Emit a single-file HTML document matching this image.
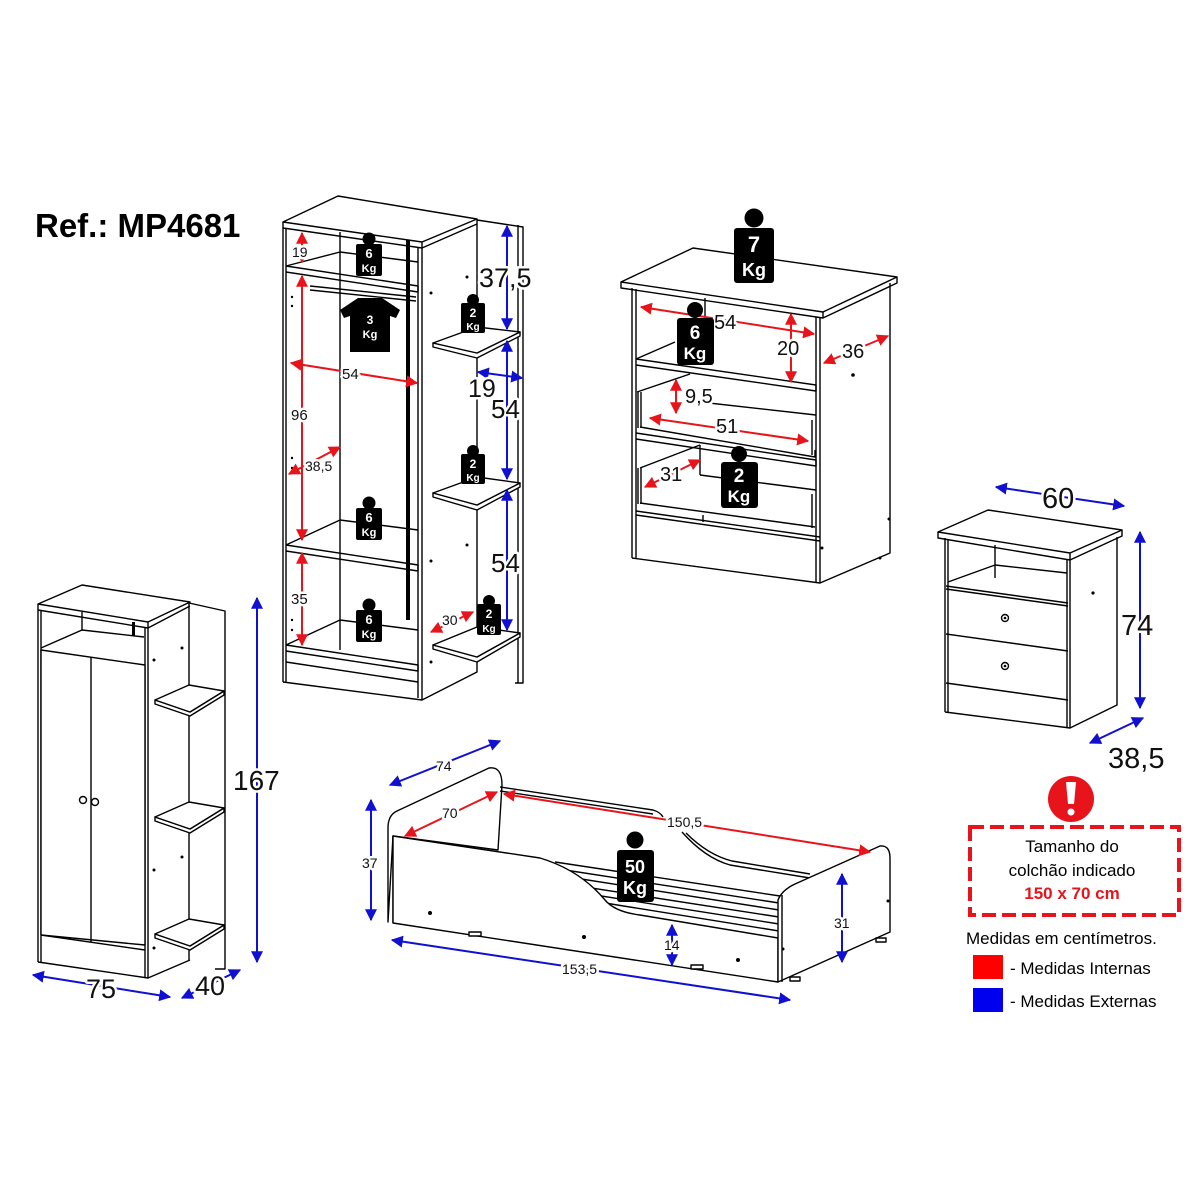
<!DOCTYPE html>
<html><head><meta charset="utf-8"><style>
html,body{margin:0;padding:0;background:#fff}
svg{display:block}
text{font-family:"Liberation Sans",sans-serif}
.l{fill:none;stroke:#000;stroke-width:1.4;stroke-linejoin:round}
.lt{fill:#fff;stroke:#000;stroke-width:1.4;stroke-linejoin:round}
.r{stroke:#e8141b;stroke-width:2;fill:none}
.b{stroke:#1010d0;stroke-width:2;fill:none}
.t{fill:#111;stroke:#fff;stroke-width:5;paint-order:stroke;stroke-linejoin:round}
.w{fill:#fff;font-weight:bold;text-anchor:middle}
</style></head><body>
<svg width="1200" height="1200" viewBox="0 0 1200 1200" xmlns="http://www.w3.org/2000/svg">
<defs>
<marker id="ar" viewBox="0 0 10 10" refX="9" refY="5" markerWidth="6" markerHeight="6" orient="auto-start-reverse"><path d="M0,0L10,5L0,10z" fill="#e8141b"/></marker>
<marker id="ab" viewBox="0 0 10 10" refX="9" refY="5" markerWidth="6" markerHeight="6" orient="auto-start-reverse"><path d="M0,0L10,5L0,10z" fill="#1010d0"/></marker>
</defs>
<rect width="1200" height="1200" fill="#fff"/>
<text x="35" y="237" font-size="33" font-weight="bold">Ref.: MP4681</text>

<!-- TALL WARDROBE -->
<polygon class="lt" points="283,222 338,196 477,219 422,242"/>
<polyline class="l" points="283,222 283,228 422,248 477,224"/>
<line class="l" x1="286" y1="228" x2="286" y2="682"/>
<line class="l" x1="283" y1="228" x2="283" y2="682"/>
<line class="l" x1="422" y1="242" x2="422" y2="700"/>
<line class="l" x1="418" y1="248" x2="418" y2="698"/>
<polyline class="l" points="283,682 422,700 477,672 477,219"/>
<polyline class="l" points="477,220 523,227 523,683 515,683"/>
<line class="l" x1="518" y1="225" x2="518" y2="683"/>
<line class="l" x1="340" y1="232" x2="340" y2="650"/>
<rect x="406" y="240" width="4" height="380" fill="#000"/>
<polyline class="l" points="286,266 340,252 418,262"/>
<polyline class="l" points="286,266 418,286 418,292 286,272"/>
<line class="l" x1="310" y1="286" x2="416" y2="297"/>
<line class="l" x1="310" y1="290" x2="416" y2="301"/>
<polyline class="l" points="286,545 340,520 418,530"/>
<polyline class="l" points="286,545 418,565 418,571 286,551"/>
<polyline class="l" points="286,645 340,620 418,630"/>
<polyline class="l" points="286,645 418,665 418,671 286,651"/>
<line class="l" x1="418" y1="682" x2="286" y2="662"/>
<polygon class="lt" points="433,343 477,353 520,332 520,336 477,358 433,347"/>
<polygon class="lt" points="433,343 477,353 520,332 477,327"/>
<polygon class="lt" points="433,493 477,505 520,483 520,487 477,510 433,497"/>
<polygon class="lt" points="433,493 477,505 520,483 477,477"/>
<polygon class="lt" points="433,645 477,657 520,633 520,637 477,662 433,649"/>
<polygon class="lt" points="433,645 477,657 520,633 477,627"/>
<g fill="#000"><circle cx="431" cy="293" r="1.5"/><circle cx="467" cy="277" r="1.5"/><circle cx="467" cy="545" r="1.5"/><circle cx="431" cy="561" r="1.5"/><circle cx="431" cy="662" r="1.5"/><circle cx="292" cy="297" r="1.2"/><circle cx="292" cy="306" r="1.2"/><circle cx="292" cy="458" r="1.2"/><circle cx="292" cy="468" r="1.2"/><circle cx="292" cy="620" r="1.2"/><circle cx="292" cy="630" r="1.2"/></g>
<line class="r" x1="302" y1="233" x2="302" y2="262" marker-start="url(#ar)" marker-end="url(#ar)"/>
<line class="r" x1="302" y1="276" x2="302" y2="540" marker-start="url(#ar)" marker-end="url(#ar)"/>
<line class="r" x1="302" y1="553" x2="302" y2="645" marker-start="url(#ar)" marker-end="url(#ar)"/>
<line class="r" x1="291" y1="363" x2="417" y2="383" marker-start="url(#ar)" marker-end="url(#ar)"/>
<line class="r" x1="289" y1="474" x2="340" y2="447" marker-start="url(#ar)" marker-end="url(#ar)"/>
<line class="r" x1="431" y1="632" x2="473" y2="612" marker-start="url(#ar)" marker-end="url(#ar)"/>
<text class="t" x="292" y="257" font-size="14">19</text>
<text class="t" x="291" y="420" font-size="15">96</text>
<text class="t" x="291" y="604" font-size="15">35</text>
<text class="t" x="342" y="379" font-size="15">54</text>
<text class="t" x="305" y="471" font-size="14">38,5</text>
<text class="t" x="442" y="625" font-size="14">30</text>
<line class="b" x1="507" y1="226" x2="507" y2="329" marker-start="url(#ab)" marker-end="url(#ab)"/>
<line class="b" x1="507" y1="341" x2="507" y2="479" marker-start="url(#ab)" marker-end="url(#ab)"/>
<line class="b" x1="507" y1="490" x2="507" y2="630" marker-start="url(#ab)" marker-end="url(#ab)"/>
<line class="b" x1="478" y1="372" x2="522" y2="378" marker-start="url(#ab)" marker-end="url(#ab)"/>
<text class="t" x="479" y="287" font-size="27">37,5</text>
<text class="t" x="468" y="397" font-size="25">19</text>
<text class="t" x="491" y="418" font-size="26">54</text>
<text class="t" x="491" y="572" font-size="26">54</text>
<g>
<circle cx="369" cy="239" r="6.5"/><rect x="356" y="244" width="26" height="32" rx="2"/><text class="w" x="369" y="258" font-size="13">6</text><text class="w" x="369" y="272" font-size="11">Kg</text>
<path d="M340,310 L358,298 L382,298 L400,310 L396,318 L390,316 L390,352 L350,352 L350,316 L344,318 Z"/><text class="w" x="370" y="324" font-size="12">3</text><text class="w" x="370" y="338" font-size="11">Kg</text>
<circle cx="473" cy="300" r="6"/><rect x="461" y="303" width="24" height="30" rx="2"/><text class="w" x="473" y="317" font-size="12">2</text><text class="w" x="473" y="330" font-size="10">Kg</text>
<circle cx="473" cy="451" r="6"/><rect x="461" y="454" width="24" height="30" rx="2"/><text class="w" x="473" y="468" font-size="12">2</text><text class="w" x="473" y="481" font-size="10">Kg</text>
<circle cx="489" cy="601" r="6"/><rect x="477" y="604" width="24" height="31" rx="2"/><text class="w" x="489" y="618" font-size="12">2</text><text class="w" x="489" y="632" font-size="10">Kg</text>
<circle cx="369" cy="503" r="6.5"/><rect x="356" y="508" width="26" height="32" rx="2"/><text class="w" x="369" y="522" font-size="13">6</text><text class="w" x="369" y="536" font-size="11">Kg</text>
<circle cx="369" cy="605" r="6.5"/><rect x="356" y="610" width="26" height="32" rx="2"/><text class="w" x="369" y="624" font-size="13">6</text><text class="w" x="369" y="638" font-size="11">Kg</text>
</g>

<!-- DRESSER -->
<polygon class="lt" points="621,282 693,248 897,277 823,312"/>
<polyline class="l" points="621,282 621,288 823,318 897,283 897,277"/>
<line class="l" x1="823" y1="312" x2="823" y2="318"/>
<line class="l" x1="632" y1="288" x2="632" y2="558"/>
<line class="l" x1="636" y1="289" x2="636" y2="559"/>
<line class="l" x1="820" y1="317" x2="820" y2="583"/>
<line class="l" x1="816" y1="317" x2="816" y2="583"/>
<polyline class="l" points="632,558 820,583 890,553 890,283"/>
<line class="l" x1="705" y1="298" x2="705" y2="353"/>
<polyline class="l" points="636,359 675,342"/>
<polyline class="l" points="636,359 816,385 816,391 636,365"/>
<polyline class="l" points="637,392 690,374"/>
<line class="l" x1="638" y1="392" x2="638" y2="428"/>
<line class="l" x1="641" y1="392" x2="641" y2="428"/>
<polyline class="l" points="700,402 816,415"/>
<polyline class="l" points="640,427 815,457 815,450"/>
<line class="l" x1="812" y1="420" x2="812" y2="455"/>
<polyline class="l" points="636,433 816,460 816,466 636,439"/>
<polyline class="l" points="640,468 700,445"/>
<line class="l" x1="638" y1="468" x2="638" y2="504"/>
<line class="l" x1="641" y1="468" x2="641" y2="504"/>
<line class="l" x1="700" y1="445" x2="700" y2="475"/>
<polyline class="l" points="700,475 816,490"/>
<polyline class="l" points="640,503 815,527"/>
<line class="l" x1="812" y1="494" x2="812" y2="528"/>
<polyline class="l" points="636,511 820,537"/>
<polyline class="l" points="636,515 820,541"/>
<line class="l" x1="703" y1="515" x2="703" y2="522"/>
<g fill="#000"><circle cx="853" cy="375" r="1.8"/><circle cx="889" cy="519" r="1.5"/><circle cx="822" cy="548" r="1.5"/><circle cx="880" cy="558" r="1.5"/></g>
<line class="r" x1="641" y1="307" x2="814" y2="334" marker-start="url(#ar)" marker-end="url(#ar)"/>
<line class="r" x1="791" y1="314" x2="791" y2="382" marker-start="url(#ar)" marker-end="url(#ar)"/>
<line class="r" x1="824" y1="363" x2="888" y2="336" marker-start="url(#ar)" marker-end="url(#ar)"/>
<line class="r" x1="676" y1="380" x2="676" y2="413" marker-start="url(#ar)" marker-end="url(#ar)"/>
<line class="r" x1="650" y1="418" x2="808" y2="441" marker-start="url(#ar)" marker-end="url(#ar)"/>
<line class="r" x1="645" y1="487" x2="700" y2="460" marker-start="url(#ar)" marker-end="url(#ar)"/>
<text class="t" x="714" y="329" font-size="20">54</text>
<text class="t" x="777" y="355" font-size="20">20</text>
<text class="t" x="842" y="358" font-size="20">36</text>
<text class="t" x="685" y="403" font-size="20">9,5</text>
<text class="t" x="716" y="433" font-size="20">51</text>
<text class="t" x="660" y="481" font-size="20">31</text>
<circle cx="754" cy="218" r="9.5"/><rect x="734" y="228" width="40" height="55" rx="3"/><text class="w" x="754" y="252" font-size="22">7</text><text class="w" x="754" y="276" font-size="18">Kg</text>
<circle cx="695" cy="310" r="8"/><rect x="677" y="318" width="37" height="47" rx="3"/><text class="w" x="695" y="339" font-size="19">6</text><text class="w" x="695" y="359" font-size="17">Kg</text>
<circle cx="739" cy="454" r="8"/><rect x="721" y="462" width="37" height="46" rx="3"/><text class="w" x="739" y="482" font-size="19">2</text><text class="w" x="739" y="502" font-size="17">Kg</text>

<!-- NIGHTSTAND -->
<polygon class="lt" points="938,532 988,510 1122,530 1070,553"/>
<polyline class="l" points="938,532 938,538 1070,560 1122,536 1122,530"/>
<line class="l" x1="1070" y1="553" x2="1070" y2="560"/>
<line class="l" x1="945" y1="538" x2="945" y2="712"/>
<line class="l" x1="948" y1="539" x2="948" y2="712"/>
<line class="l" x1="1070" y1="560" x2="1070" y2="728"/>
<line class="l" x1="1067" y1="560" x2="1067" y2="728"/>
<polyline class="l" points="945,712 1070,728 1117,705 1117,537"/>
<line class="l" x1="995" y1="545" x2="995" y2="578"/>
<polyline class="l" points="948,582 995,565 1067,573"/>
<polyline class="l" points="946,586 1068,603"/>
<polyline class="l" points="946,589 1068,606"/>
<polyline class="l" points="946,634 1068,651"/>
<polyline class="l" points="946,683 1068,700"/>
<circle cx="1005" cy="618" r="3.5" class="l"/><circle cx="1005" cy="618" r="1.3"/>
<circle cx="1005" cy="666" r="3.5" class="l"/><circle cx="1005" cy="666" r="1.3"/>
<circle cx="1093" cy="593" r="1.6"/>
<line class="b" x1="996" y1="487" x2="1124" y2="506" marker-start="url(#ab)" marker-end="url(#ab)"/>
<line class="b" x1="1140" y1="532" x2="1140" y2="708" marker-start="url(#ab)" marker-end="url(#ab)"/>
<line class="b" x1="1090" y1="743" x2="1143" y2="718" marker-start="url(#ab)" marker-end="url(#ab)"/>
<text class="t" x="1042" y="508" font-size="29">60</text>
<text class="t" x="1121" y="635" font-size="29">74</text>
<text class="t" x="1108" y="768" font-size="29">38,5</text>

<!-- LEGEND -->
<rect x="970" y="827" width="209" height="88" fill="none" stroke="#e8141b" stroke-width="4" stroke-dasharray="14,6"/>
<circle cx="1071" cy="799" r="23" fill="#e8141b"/>
<path d="M1066,782 h10 l-2,22 h-6 z" fill="#fff"/><circle cx="1071" cy="812" r="3.5" fill="#fff"/>
<text x="1072" y="852" font-size="17" text-anchor="middle">Tamanho do</text>
<text x="1072" y="876" font-size="17" text-anchor="middle">colchão indicado</text>
<text x="1072" y="899" font-size="17" font-weight="bold" fill="#e8141b" text-anchor="middle">150 x 70 cm</text>
<text x="966" y="944" font-size="17">Medidas em centímetros.</text>
<rect x="973" y="955" width="30" height="24" fill="#ff0000"/>
<text x="1010" y="974" font-size="17">- Medidas Internas</text>
<rect x="973" y="988" width="30" height="24" fill="#0000ee"/>
<text x="1010" y="1007" font-size="17">- Medidas Externas</text>

<!-- SMALL WARDROBE -->
<polygon class="lt" points="38,604 82,585 190,602 148,622"/>
<polyline class="l" points="38,604 38,610 148,628 190,606"/>
<line class="l" x1="148" y1="622" x2="148" y2="628"/>
<line class="l" x1="38" y1="610" x2="38" y2="962"/>
<line class="l" x1="41" y1="610" x2="41" y2="962"/>
<line class="l" x1="148" y1="628" x2="148" y2="978"/>
<line class="l" x1="145" y1="628" x2="145" y2="978"/>
<polyline class="l" points="38,962 148,978 190,960"/>
<polyline class="l" points="189,603 225,611 225,969 215,969"/>
<line class="l" x1="189" y1="603" x2="189" y2="960"/>
<polyline class="l" points="41,648 82,630 144,637"/>
<rect x="132" y="622" width="3" height="14"/>
<line class="l" x1="82" y1="612" x2="82" y2="630"/>
<polygon class="lt" points="41,650 145,665 145,945 41,935"/>
<line class="l" x1="91" y1="657" x2="91" y2="942"/>
<line class="l" x1="41" y1="935" x2="145" y2="950"/>
<polygon class="lt" points="155,700 190,712 224,691 224,695 190,716 155,704"/>
<polygon class="lt" points="155,700 190,712 224,691 189,685"/>
<polygon class="lt" points="155,817 190,829 224,808 224,812 190,833 155,821"/>
<polygon class="lt" points="155,817 190,829 224,808 189,802"/>
<polygon class="lt" points="155,934 190,946 224,925 224,929 190,950 155,938"/>
<polygon class="lt" points="155,934 190,946 224,925 189,919"/>
<circle cx="83" cy="800" r="3.5" class="l"/><circle cx="95" cy="802" r="3.5" class="l"/>
<g fill="#000"><circle cx="182" cy="648" r="1.5"/><circle cx="154" cy="660" r="1.5"/><circle cx="182" cy="857" r="1.5"/><circle cx="154" cy="870" r="1.5"/><circle cx="154" cy="948" r="1.5"/></g>
<line class="b" x1="257" y1="598" x2="257" y2="962" marker-start="url(#ab)" marker-end="url(#ab)"/>
<line class="b" x1="33" y1="975" x2="170" y2="997" marker-start="url(#ab)" marker-end="url(#ab)"/>
<line class="b" x1="182" y1="998" x2="240" y2="970" marker-start="url(#ab)" marker-end="url(#ab)"/>
<text class="t" x="233" y="790" font-size="28">167</text>
<text class="t" x="86" y="998" font-size="27">75</text>
<text class="t" x="195" y="995" font-size="27">40</text>

<!-- BED -->
<path class="lt" d="M388,922 L388,828 Q388,815 397,811 L489,768 Q502,766 502,785 L498,850 L393,836 Z"/>
<line class="l" x1="393" y1="836" x2="393" y2="923"/>
<path class="l" d="M500,787 L653,810 Q660,812 663,817"/>
<path class="l" d="M500,791 L653,814"/>
<path class="l" d="M682,832 Q705,858 730,865 L810,878"/>
<path class="l" d="M686,833 Q708,855 732,861 L810,874"/>
<g class="l">
<line x1="555" y1="862" x2="780" y2="896"/>
<line x1="565" y1="870" x2="779" y2="903"/>
<line x1="575" y1="878" x2="779" y2="910"/>
<line x1="585" y1="887" x2="779" y2="917"/>
<line x1="595" y1="895" x2="779" y2="924"/>
<line x1="605" y1="903" x2="779" y2="931"/>
</g>
<path class="lt" d="M393,836 L540,858 Q580,870 605,900 Q615,912 640,915 L778,938 L778,982 L393,923 Z"/>
<path class="lt" d="M778,982 L778,900 Q782,890 795,884 L880,846 Q890,845 890,858 L890,932 Z"/>
<line class="l" x1="782" y1="895" x2="782" y2="982"/>
<rect x="469" y="932" width="12" height="4" class="lt"/><rect x="691" y="965" width="12" height="4" class="lt"/><rect x="790" y="977" width="10" height="4" class="lt"/><rect x="876" y="938" width="10" height="4" class="lt"/>
<g fill="#000"><circle cx="430" cy="913" r="2"/><circle cx="584" cy="937" r="2"/><circle cx="738" cy="960" r="2"/><circle cx="783" cy="949" r="1.5"/><circle cx="888" cy="901" r="1.5"/></g>
<line class="b" x1="390" y1="785" x2="500" y2="741" marker-start="url(#ab)" marker-end="url(#ab)"/>
<line class="r" x1="405" y1="836" x2="497" y2="792" marker-start="url(#ar)" marker-end="url(#ar)"/>
<line class="r" x1="504" y1="794" x2="870" y2="852" marker-start="url(#ar)" marker-end="url(#ar)"/>
<line class="b" x1="371" y1="800" x2="371" y2="920" marker-start="url(#ab)" marker-end="url(#ab)"/>
<line class="b" x1="842" y1="874" x2="842" y2="962" marker-start="url(#ab)" marker-end="url(#ab)"/>
<line class="b" x1="672" y1="925" x2="672" y2="965" marker-start="url(#ab)" marker-end="url(#ab)"/>
<line class="b" x1="392" y1="940" x2="790" y2="1000" marker-start="url(#ab)" marker-end="url(#ab)"/>
<text class="t" x="436" y="771" font-size="14">74</text>
<text class="t" x="442" y="818" font-size="14">70</text>
<text class="t" x="667" y="827" font-size="14">150,5</text>
<text class="t" x="362" y="868" font-size="14">37</text>
<text class="t" x="834" y="928" font-size="14">31</text>
<text class="t" x="664" y="950" font-size="14">14</text>
<text class="t" x="562" y="974" font-size="14">153,5</text>
<circle cx="635" cy="840" r="8.5"/><rect x="617" y="850" width="37" height="52" rx="3"/><text class="w" x="635" y="873" font-size="18">50</text><text class="w" x="635" y="894" font-size="18">Kg</text>
</svg>
</body></html>
